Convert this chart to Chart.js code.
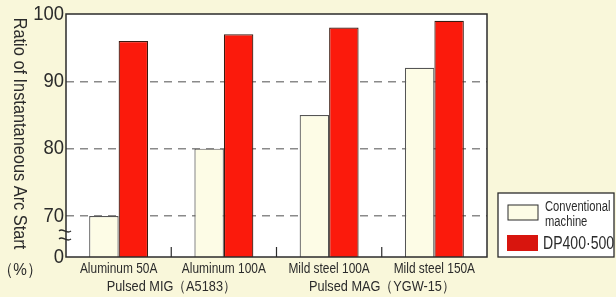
<!DOCTYPE html>
<html>
<head>
<meta charset="utf-8">
<script src="https://cdn.jsdelivr.net/npm/chart.js@4.4.1/dist/chart.umd.min.js"></script>
<title>Arc start ratio</title>
<style>
  html, body { margin: 0; padding: 0; background: #f9f7da; }
  #wrap { width: 616px; height: 297px; }
</style>
</head>
<body>
<div id="wrap"><canvas id="myChart" width="616" height="297"></canvas></div>
<script>
// data
const categories = ['Aluminum 50A', 'Aluminum 100A', 'Mild steel 100A', 'Mild steel 150A'];
const conventional = [70, 80, 85, 92];
const dp400 = [96, 97, 98, 99];
const groupLabels = ['Pulsed MIG（A5183）', 'Pulsed MAG（YGW-15）'];
const groupFirst = [0, 2];
const groupLast = [1, 3];
const yTicks = [70, 80, 90, 100];
const axisBase = 63.9; // bottom of the broken axis, labelled "0"

const FONT = '"Liberation Sans", Arial, sans-serif';
const INK = '#2b2b2b';
const BG = '#f9f7da';

// condensed text, the original uses a narrow face
function narrow(ctx, text, x, y, size, sx, align) {
  ctx.save();
  ctx.font = size + 'px ' + FONT;
  ctx.textAlign = align || 'center';
  ctx.translate(x, y);
  ctx.scale(sx, 1);
  ctx.fillText(text, 0, 0);
  ctx.restore();
}

const extras = {
  id: 'extras',
  beforeDraw(chart) {
    const ctx = chart.ctx;
    const a = chart.chartArea;
    ctx.save();
    ctx.fillStyle = BG;
    ctx.fillRect(0, 0, chart.width, chart.height);
    ctx.fillStyle = '#ffffff';
    ctx.fillRect(a.left, a.top, a.right - a.left, a.bottom - a.top);
    ctx.restore();
  },
  afterDatasetsDraw(chart) {
    const ctx = chart.ctx;
    const a = chart.chartArea;
    const x = chart.scales.x;
    const y = chart.scales.y;
    ctx.save();
    ctx.strokeStyle = INK;
    ctx.lineWidth = 1.5;
    ctx.strokeRect(a.left, a.top, a.right - a.left, a.bottom - a.top);

    // small separator ticks between categories
    ctx.lineWidth = 1.2;
    for (let i = 0; i < categories.length - 1; i++) {
      const px = (x.getPixelForValue(i) + x.getPixelForValue(i + 1)) / 2;
      ctx.beginPath();
      ctx.moveTo(px, a.bottom);
      ctx.lineTo(px, a.bottom - 10);
      ctx.stroke();
    }

    // axis break mark
    ctx.lineWidth = 1.3;
    const bx = a.left;
    [231, 239].forEach(function (by) {
      ctx.beginPath();
      ctx.moveTo(bx - 7, by);
      ctx.bezierCurveTo(bx - 3, by - 4, bx, by + 4, bx + 5, by);
      ctx.stroke();
    });

    ctx.fillStyle = INK;
    ctx.textBaseline = 'middle';

    // y tick labels
    y.ticks.forEach(function (t) {
      const label = t.value < yTicks[0] ? '0' : String(t.value);
      narrow(ctx, label, a.left - 2, y.getPixelForValue(t.value), 21, 0.88, 'right');
    });

    // category labels
    categories.forEach(function (c, i) {
      narrow(ctx, c, x.getPixelForValue(i), 269, 14, 0.85);
    });

    // group labels
    groupLabels.forEach(function (g, i) {
      const cx = (x.getPixelForValue(groupFirst[i]) + x.getPixelForValue(groupLast[i])) / 2;
      narrow(ctx, g, cx, 287, 15, 0.85);
    });

    // y title, read top to bottom
    ctx.save();
    ctx.translate(19, (a.top + a.bottom) / 2 - 2);
    ctx.rotate(Math.PI / 2);
    narrow(ctx, 'Ratio of Instantaneous Arc Start', 0, 0, 19, 0.86);
    ctx.restore();
    narrow(ctx, '（%）', 20, 270, 17, 0.9);

    // legend box
    ctx.fillStyle = '#ffffff';
    ctx.fillRect(498, 193, 116, 64);
    ctx.strokeStyle = INK;
    ctx.lineWidth = 1.3;
    ctx.strokeRect(498, 193, 116, 64);
    ctx.fillStyle = '#fdfce6';
    ctx.fillRect(508, 205, 30, 15);
    ctx.lineWidth = 1;
    ctx.strokeRect(508, 205, 30, 15);
    ctx.fillStyle = '#d8150e';
    ctx.fillRect(507, 235, 31, 16);
    ctx.fillStyle = INK;
    narrow(ctx, 'Conventional', 545, 207, 14, 0.8, 'left');
    narrow(ctx, 'machine', 545, 222, 14, 0.8, 'left');
    narrow(ctx, 'DP400·500', 543, 244, 19, 0.74, 'left');
    ctx.restore();
  }
};

const data = {
  labels: categories,
  datasets: [{
    label: 'Conventional machine',
    data: conventional,
    backgroundColor: '#fdfce6',
    borderColor: '#555555',
    borderWidth: 1.2,
    borderSkipped: 'bottom'
  }, {
    label: 'DP400·500',
    data: dp400,
    backgroundColor: '#fb1a0c',
    borderColor: '#3a1a10',
    borderWidth: 1.2,
    borderSkipped: 'bottom'
  }]
};

const config = {
  type: 'bar',
  data: data,
  options: {
    responsive: false,
    animation: false,
    layout: { padding: { top: 14, right: 129, bottom: 0, left: 0 } },
    plugins: {
      legend: { display: false },
      tooltip: { enabled: false }
    },
    datasets: {
      bar: { categoryPercentage: 0.56, barPercentage: 1.0 }
    },
    scales: {
      x: {
        grid: { display: false },
        border: { display: false },
        ticks: { display: false },
        afterFit: function (s) { s.height = 40; }
      },
      y: {
        min: axisBase,
        max: 100,
        border: { display: false, dash: [8, 6] },
        afterBuildTicks: function (s) {
          s.ticks = [{ value: axisBase }].concat(yTicks.map(function (v) { return { value: v }; }));
        },
        afterFit: function (s) { s.width = 66; },
        ticks: { display: false },
        grid: {
          drawTicks: false,
          color: function (c) {
            const v = c.tick.value;
            return (v > axisBase && v < 100) ? '#8a8a8a' : 'rgba(0,0,0,0)';
          },
          lineWidth: 1.5
        }
      }
    }
  },
  plugins: [extras]
};

var myChart = new Chart(document.getElementById('myChart'), config);
</script>
</body>
</html>
